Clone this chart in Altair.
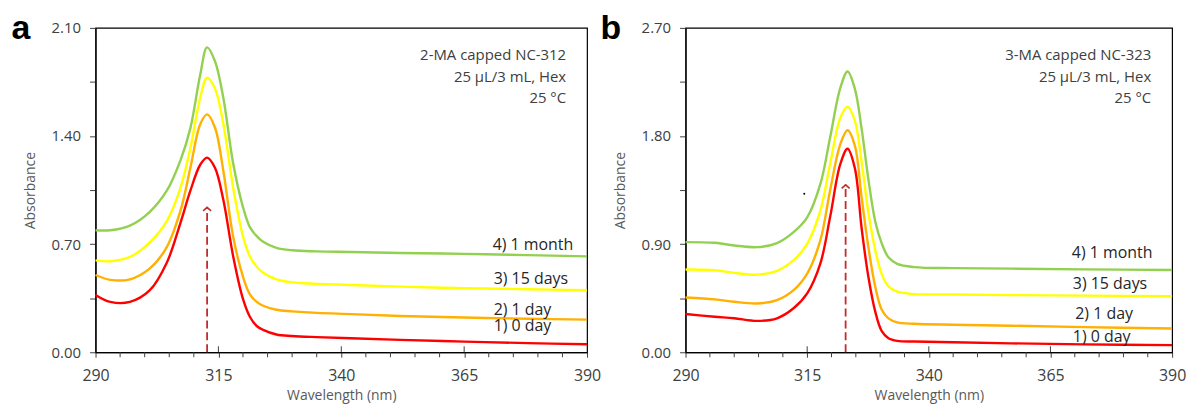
import altair as alt
import pandas as pd

series = ["4) 1 month", "3) 15 days", "2) 1 day", "1) 0 day"]
colors = ["#92D050", "#FFFF00", "#FFB000", "#FF0000"]

# ---------------- panel a : 2-MA capped NC-312 ----------------
a_nm = [290, 293, 297, 301, 304.5, 307.3, 309.3, 311.3, 312.7, 314.3, 316, 318, 320,
        321.4, 322.8, 324.1, 326.8, 330, 335, 342, 352, 365, 378, 390]
a_month = [0.79, 0.79, 0.82, 0.908, 1.046, 1.244, 1.451, 1.796, 1.974, 1.885, 1.648, 1.224, 0.94,
           0.81, 0.752, 0.715, 0.676, 0.66, 0.653, 0.649, 0.643, 0.637, 0.629, 0.621]
a_15d = [0.595, 0.589, 0.617, 0.71, 0.849, 1.066, 1.323, 1.648, 1.777, 1.707, 1.48, 1.066, 0.75,
         0.62, 0.553, 0.515, 0.472, 0.452, 0.443, 0.435, 0.425, 0.415, 0.408, 0.401]
a_1d = [0.50, 0.469, 0.472, 0.541, 0.681, 0.918, 1.194, 1.476, 1.54, 1.455, 1.175, 0.75, 0.489,
        0.375, 0.326, 0.301, 0.275, 0.265, 0.255, 0.247, 0.235, 0.225, 0.217, 0.211]
a_0d = [0.371, 0.326, 0.326, 0.40, 0.58, 0.84, 1.046, 1.214, 1.26, 1.194, 0.987, 0.622, 0.345,
        0.23, 0.17, 0.145, 0.115, 0.105, 0.098, 0.091, 0.08, 0.069, 0.059, 0.052]
a_label_x = [370.8, 371.0, 371.0, 371.0]
a_label_y = [0.691, 0.477, 0.276, 0.170]
a_arrow_x = [312.7]
a_arrow_y = [0.938]
a_note = "2-MA capped NC-312\n25 μL/3 mL, Hex\n25 °C"

# ---------------- panel b : 3-MA capped NC-323 ----------------
b_nm = [290, 296, 300, 304.7, 308.8, 312.2, 315, 317.7, 319.7, 321.8, 323.3, 324.8, 326.2,
        327.6, 329, 330.3, 331.7, 333.5, 337, 345, 357, 372, 390]
b_month = [0.917, 0.911, 0.889, 0.875, 0.909, 1.0, 1.123, 1.399, 1.785, 2.199, 2.337, 2.193, 1.857,
           1.433, 1.087, 0.909, 0.79, 0.736, 0.709, 0.70, 0.696, 0.69, 0.685]
b_15d = [0.689, 0.683, 0.661, 0.646, 0.678, 0.767, 0.903, 1.179, 1.565, 1.95, 2.045, 1.927, 1.581,
         1.156, 0.85, 0.652, 0.548, 0.504, 0.484, 0.481, 0.476, 0.471, 0.467]
b_1d = [0.456, 0.44, 0.42, 0.406, 0.434, 0.517, 0.655, 0.931, 1.345, 1.731, 1.848, 1.719, 1.284,
        0.869, 0.543, 0.356, 0.282, 0.249, 0.237, 0.229, 0.221, 0.209, 0.198]
b_0d = [0.318, 0.296, 0.283, 0.261, 0.283, 0.366, 0.49, 0.738, 1.123, 1.565, 1.694, 1.531, 1.028,
        0.622, 0.336, 0.178, 0.117, 0.095, 0.089, 0.083, 0.074, 0.066, 0.059]
b_label_x = [369.4, 369.6, 370.1, 369.6]
b_label_y = [0.829, 0.572, 0.318, 0.128]
b_arrow_x = [322.9]
b_arrow_y = [1.394]
b_note = "3-MA capped NC-323\n25 μL/3 mL, Hex\n25 °C"
b_dot_x = [314.4]
b_dot_y = [1.319]

x_major = [290, 315, 340, 365, 390]
x_minor = [295, 300, 305, 310, 320, 325, 330, 335, 345, 350, 355, 360, 370, 375, 380, 385]
a_y_ticks = [0, 0.35, 0.7, 1.05, 1.4, 1.75, 2.1]
b_y_ticks = [0, 0.45, 0.9, 1.35, 1.8, 2.25, 2.7]

FONT = "Open Sans"
H = 326
ARROW = "#C42B2B"
TICK = "#404040"


def long_df(nm, cols):
    rows = []
    for name, vals in zip(series, cols):
        for x, y in zip(nm, vals):
            rows.append({"nm": x, "A": y, "series": name})
    return pd.DataFrame(rows)


def panel(nm, cols, ymax, yticks, ymod, lx, ly, ax, ay, note, letter, W, dot=None):
    xs = alt.Scale(domain=[290, 390], nice=False, zero=False)
    ys = alt.Scale(domain=[0, ymax], nice=False, zero=True)
    xaxis = alt.Axis(values=x_major, format="d",
                     title="Wavelength (nm)", tickSize=5, labelFontSize=16, labelColor="#404040",
                     titleFontSize=14, titleColor="#595959", titleFontWeight="normal",
                     labelFont=FONT, titleFont=FONT, domainColor="#000000", domainWidth=1.2,
                     tickColor=TICK, grid=False, labelPadding=10, titlePadding=5,
                     labelFlush=False, labelOverlap=False)
    yaxis = alt.Axis(values=yticks,
                     labelExpr="round(datum.value*100) %% %d == 0 ? format(datum.value, '.2f') : ''" % ymod,
                     title="Absorbance", tickSize=6, labelFontSize=15, labelColor="#404040",
                     titleFontSize=14, titleColor="#595959", titleFontWeight="normal",
                     labelFont=FONT, titleFont=FONT, domainColor="#000000", domainWidth=1.2,
                     tickColor=TICK, grid=False, labelPadding=9, titlePadding=14,
                     labelFlush=False, labelOverlap=False)

    df = long_df(nm, cols)
    lines = alt.Chart(df).mark_line(strokeWidth=2.4, interpolate="catmull-rom").encode(
        x=alt.X("nm:Q", scale=xs, axis=xaxis),
        y=alt.Y("A:Q", scale=ys, axis=yaxis),
        color=alt.Color("series:N", scale=alt.Scale(domain=series, range=colors), legend=None),
    )

    inner = alt.Chart(pd.DataFrame({"nm": x_major[1:-1]})).mark_rule(
        color=TICK, strokeWidth=1).encode(
        x=alt.X("nm:Q", scale=xs), y=alt.value(H - 6), y2=alt.value(H))
    minor = alt.Chart(pd.DataFrame({"nm": x_minor})).mark_rule(
        color=TICK, strokeWidth=1).encode(
        x=alt.X("nm:Q", scale=xs), y=alt.value(H), y2=alt.value(H + 5))

    arr = pd.DataFrame({"nm": ax, "A": ay, "A0": [0.0] * len(ax)})
    shaft = alt.Chart(arr).mark_rule(color=ARROW, strokeWidth=1.8, strokeDash=[8, 4]).encode(
        x=alt.X("nm:Q", scale=xs), y=alt.Y("A0:Q", scale=ys), y2="A:Q")
    head = alt.Chart(arr).mark_point(shape="M-1,0.9L0,0L1,0.9", filled=False, size=64,
                                     color=ARROW, strokeWidth=1.6, opacity=1).encode(
        x=alt.X("nm:Q", scale=xs), y=alt.Y("A:Q", scale=ys))

    lab = pd.DataFrame({"nm": lx, "A": ly, "t": series})
    labels = alt.Chart(lab).mark_text(align="left", baseline="middle", fontSize=16, font=FONT,
                                      color="#262626").encode(
        x=alt.X("nm:Q", scale=xs), y=alt.Y("A:Q", scale=ys), text="t:N")

    notes = alt.Chart(pd.DataFrame({"k": [0]})).mark_text(
        align="right", baseline="alphabetic", fontSize=15, font=FONT, color="#404040",
        lineBreak="\n", lineHeight=22).encode(
        x=alt.value(W - 21), y=alt.value(32), text=alt.value(note))

    let = alt.Chart(pd.DataFrame({"k": [0]})).mark_text(
        align="center", baseline="alphabetic", fontSize=34, font="Liberation Sans",
        fontWeight="bold", color="#000000").encode(
        x=alt.value(-75), y=alt.value(11), text=alt.value(letter))

    layers = [lines, inner, minor, shaft, head, labels, notes, let]
    if dot is not None:
        d = pd.DataFrame({"nm": dot[0], "A": dot[1]})
        layers.append(alt.Chart(d).mark_point(filled=True, size=4, color="#000000", opacity=1).encode(
            x=alt.X("nm:Q", scale=xs), y=alt.Y("A:Q", scale=ys)))
    return alt.layer(*layers).properties(width=W, height=H)


pa = panel(a_nm, [a_month, a_15d, a_1d, a_0d], 2.1, a_y_ticks, 70, a_label_x, a_label_y,
           a_arrow_x, a_arrow_y, a_note, "a", 494)
pb = panel(b_nm, [b_month, b_15d, b_1d, b_0d], 2.7, b_y_ticks, 90, b_label_x, b_label_y,
           b_arrow_x, b_arrow_y, b_note, "b", 489, dot=(b_dot_x, b_dot_y))

chart = alt.hconcat(pa, pb, spacing=99, bounds="flush").properties(
    padding={"left": 10, "top": 10, "right": 5, "bottom": 5},
).configure_view(stroke="#000000", strokeWidth=1.2)

chart.save("out.html", embed_options={"renderer": "svg", "actions": False})
